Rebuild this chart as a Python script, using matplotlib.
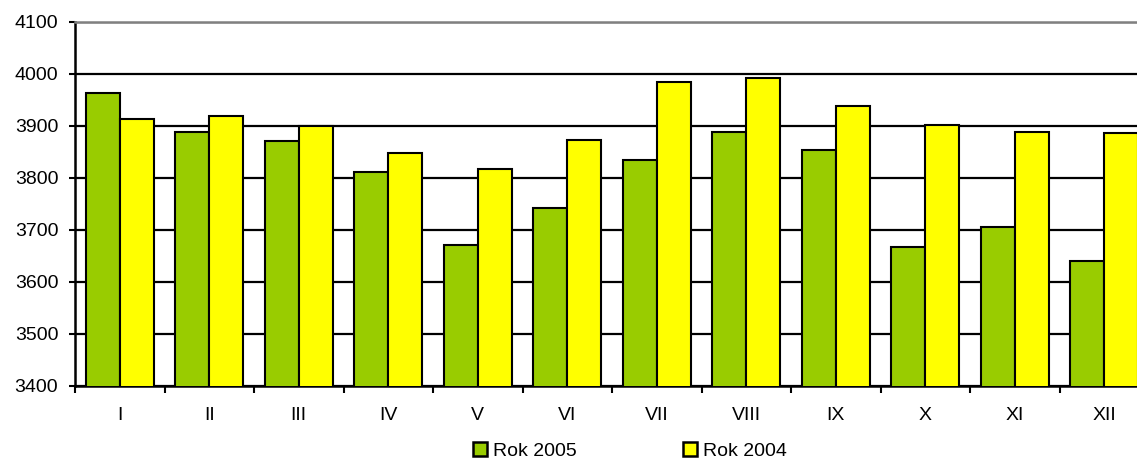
import numpy as np
import matplotlib.pyplot as plt
from matplotlib.patches import Patch

months = ["I", "II", "III", "IV", "V", "VI", "VII", "VIII", "IX", "X", "XI", "XII"]
rok_2005 = [3963, 3889, 3871, 3812, 3672, 3742, 3834, 3889, 3853, 3667, 3706, 3640]
rok_2004 = [3913, 3919, 3900, 3849, 3817, 3873, 3984, 3992, 3938, 3901, 3889, 3886]

plt.rcParams['font.family'] = ['Liberation Sans', 'DejaVu Sans']
plt.rcParams['font.size'] = 14

fig = plt.figure(figsize=(11.37, 4.58), dpi=100)
# plot area runs past the right edge, like the original crop
ax = fig.add_axes([75 / 1137, 72 / 458, 1074 / 1137, 364 / 458])

x = np.arange(len(months))
w = 0.38
ax.bar(x - w / 2, rok_2005, width=w, color='#99CC00', edgecolor='black', linewidth=1.5, zorder=3)
ax.bar(x + w / 2, rok_2004, width=w, color='#FFFF00', edgecolor='black', linewidth=1.5, zorder=3)

ax.set_xlim(-0.5, len(months) - 0.5)
ax.set_ylim(3400, 4100)
ax.set_yticks(np.arange(3400, 4101, 100))
ax.yaxis.grid(True, color='black', linewidth=1.6, zorder=0)

# ticks on category boundaries, labels in the middle
ax.set_xticks(np.arange(-0.5, len(months), 1.0))
ax.set_xticklabels([])
ax.set_xticks(x, minor=True)
ax.set_xticklabels(months, minor=True)
ax.tick_params(axis='x', which='major', length=5, width=1.5, direction='out')
ax.tick_params(axis='x', which='minor', length=0, pad=15)
ax.tick_params(axis='y', length=4.5, width=1.5, direction='out', pad=7.5)

for s in ['left', 'bottom']:
    ax.spines[s].set_linewidth(1.8)
    ax.spines[s].set_color('black')
ax.spines['top'].set_color('#808080')
ax.spines['top'].set_linewidth(1.8)
ax.spines['right'].set_visible(False)

handles = [Patch(facecolor='#99CC00', edgecolor='black', linewidth=1.8, label='Rok 2005'),
           Patch(facecolor='#FFFF00', edgecolor='black', linewidth=1.8, label='Rok 2004')]
fig.legend(handles=handles, loc='center', bbox_to_anchor=(0.554, 7 / 458), ncol=2,
           frameon=False, handlelength=0.72, handleheight=0.72, handletextpad=0.28,
           columnspacing=5.5, fontsize=14, borderpad=0)

fig.savefig('out.png', dpi=100)
